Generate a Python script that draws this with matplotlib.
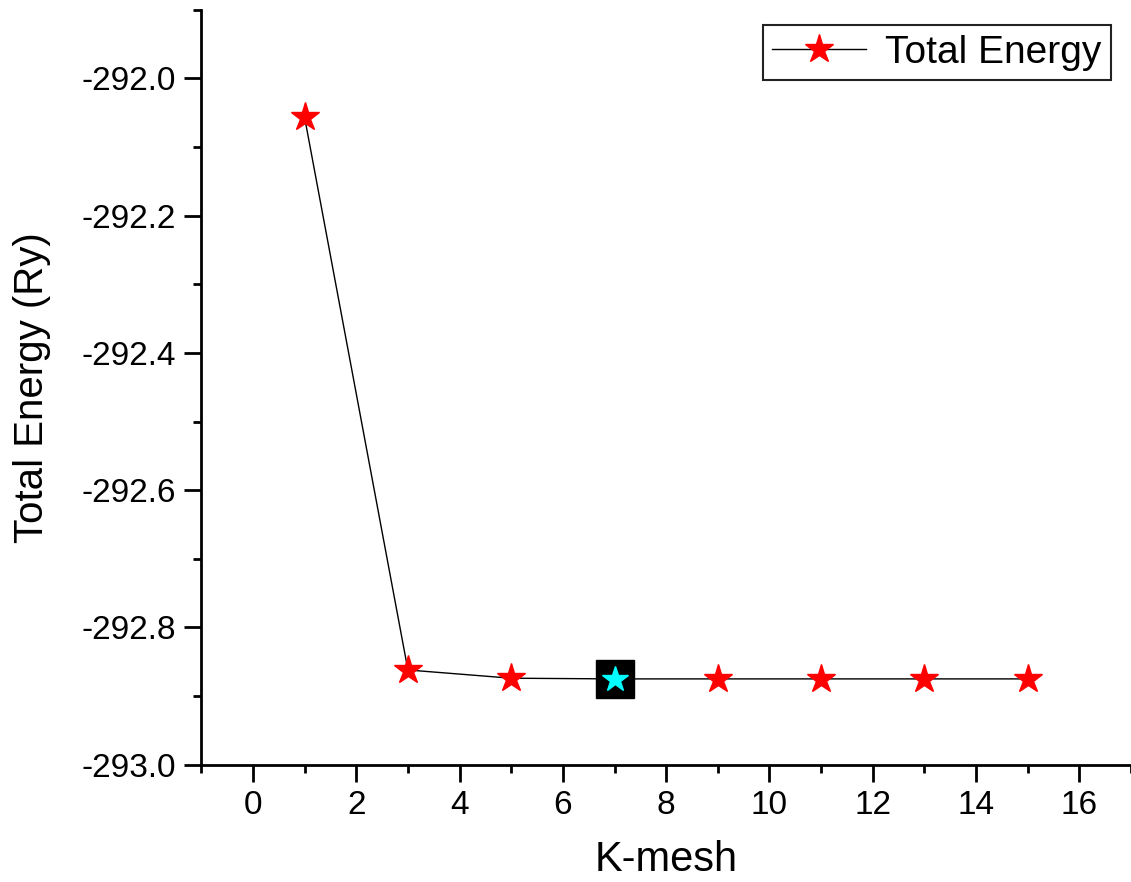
import numpy as np
import matplotlib.pyplot as plt
from matplotlib.ticker import MultipleLocator

plt.rcParams['font.family'] = ['Liberation Sans', 'DejaVu Sans']

# k-mesh convergence data
kmesh = [1, 3, 5, 7, 9, 11, 13, 15]
energy = [-292.057, -292.862, -292.874, -292.875, -292.875, -292.875, -292.875, -292.875]
best_k = 7
best_e = -292.875

fig = plt.figure(figsize=(11.31, 8.82), dpi=100)
ax = fig.add_axes([0.178, 0.133, 0.822, 0.856])

ax.plot(kmesh, energy, color='black', lw=1, marker='*', ms=21,
        mfc='red', mec='red', label='Total Energy', zorder=2)
# highlighted converged point
ax.plot([best_k], [best_e], marker='s', ms=27, color='black', ls='none', zorder=3)
ax.plot([best_k], [best_e], marker='*', ms=19, color='cyan', ls='none', zorder=4)

ax.set_xlim(-1, 17)
ax.set_ylim(-293.0, -291.9)
ax.xaxis.set_major_locator(MultipleLocator(2))
ax.xaxis.set_minor_locator(MultipleLocator(1))
ax.yaxis.set_major_locator(MultipleLocator(0.2))
ax.yaxis.set_minor_locator(MultipleLocator(0.1))
ax.yaxis.set_major_formatter(plt.FuncFormatter(lambda v, p: f"{v:.1f}"))

for s in ['top', 'right']:
    ax.spines[s].set_visible(False)
for s in ['left', 'bottom']:
    ax.spines[s].set_linewidth(2)
ax.tick_params(which='major', direction='out', length=12, width=2, labelsize=24, pad=6)
ax.tick_params(which='minor', direction='out', length=6, width=2)

ax.set_xlabel('K-mesh', fontsize=30, labelpad=14)
ax.set_ylabel('Total Energy (Ry)', fontsize=29, labelpad=22)

leg = ax.legend(loc='upper right', fontsize=28, fancybox=False, framealpha=1,
                edgecolor='#222222', handlelength=2.4, handletextpad=0.5,
                borderpad=0.25, borderaxespad=0.2,
                bbox_to_anchor=(0.987, 0.99))
leg.get_frame().set_linewidth(1.5)

fig.savefig('out.png', dpi=100)
